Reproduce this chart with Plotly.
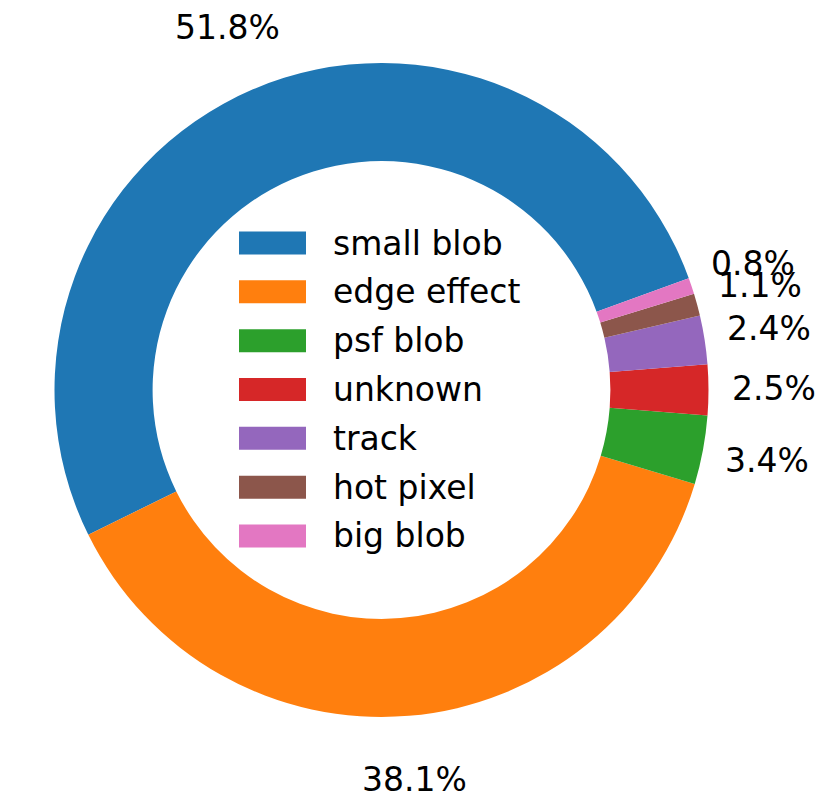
import math
import plotly.graph_objects as go

# ---- data ----
labels = ["small blob", "edge effect", "psf blob", "unknown", "track", "hot pixel", "big blob"]
percents = [51.8, 38.1, 3.4, 2.5, 2.4, 1.1, 0.8]
colors = ["#1f77b4", "#ff7f0e", "#2ca02c", "#d62728", "#9467bd", "#8c564b", "#e377c2"]

# ---- layout constants (pixels) ----
W, H = 830, 811
CX, CY, R = 381.5, 390.0, 327.0
START_DEG = 20.0          # math angle where first slice starts (then counterclockwise)
HOLE = 0.70
LABEL_DIST = 1.2
FONT = "DejaVu Sans"
FS = 33


def px(x):
    return x / W


def py(y):
    return 1 - y / H


total = sum(percents)
first_span = percents[0] / total * 360.0
# plotly (counterclockwise): rotation marks the clockwise edge of the first slice
rotation = 90 - START_DEG - first_span

fig = go.Figure()
fig.add_trace(go.Pie(
    labels=labels,
    values=percents,
    marker=dict(colors=colors, line=dict(width=0)),
    hole=HOLE,
    sort=False,
    direction="counterclockwise",
    rotation=rotation,
    textinfo="none",
    hoverinfo="label+percent",
    showlegend=False,
    domain=dict(x=[px(CX - R), px(CX + R)], y=[py(CY + R), py(CY - R)]),
))

# percentage labels placed at LABEL_DIST * R along each slice's mid-angle
ang = START_DEG
annotations = []
for v in percents:
    span = v / total * 360.0
    mid = math.radians(ang + span / 2)
    ang += span
    x = CX + LABEL_DIST * R * math.cos(mid)
    y = CY - LABEL_DIST * R * math.sin(mid)
    annotations.append(dict(
        x=px(x), y=py(y - 1.5), xref="paper", yref="paper",
        text=f"{v:.1f}%", showarrow=False,
        xanchor="center", yanchor="middle",
        font=dict(family=FONT, size=FS, color="black"),
    ))

# legend in the hole (matplotlib-style wide patches)
ROW = 48.83
PATCH_W, PATCH_H = 67, 23
n = len(labels)
shapes = []
for i, (lab, col) in enumerate(zip(labels, colors)):
    yc = CY - 0.5 + (i - (n - 1) / 2) * ROW
    x0 = CX - 142.5
    shapes.append(dict(
        type="rect", xref="paper", yref="paper",
        x0=px(x0), x1=px(x0 + PATCH_W),
        y0=py(yc + PATCH_H / 2), y1=py(yc - PATCH_H / 2),
        fillcolor=col, line=dict(width=0),
    ))
    annotations.append(dict(
        x=px(CX - 50), y=py(yc), xref="paper", yref="paper",
        text=lab, showarrow=False, xanchor="left", yanchor="middle",
        borderpad=0,
        font=dict(family=FONT, size=FS, color="black"),
    ))

fig.update_layout(
    width=W, height=H,
    margin=dict(l=0, r=0, t=0, b=0),
    paper_bgcolor="white",
    plot_bgcolor="white",
    annotations=annotations,
    shapes=shapes,
    showlegend=False,
)

fig.write_html(
    "out.html",
    config={"displayModeBar": False},
    post_script="document.body.style.margin='0px';document.body.style.overflow='hidden';",
)
